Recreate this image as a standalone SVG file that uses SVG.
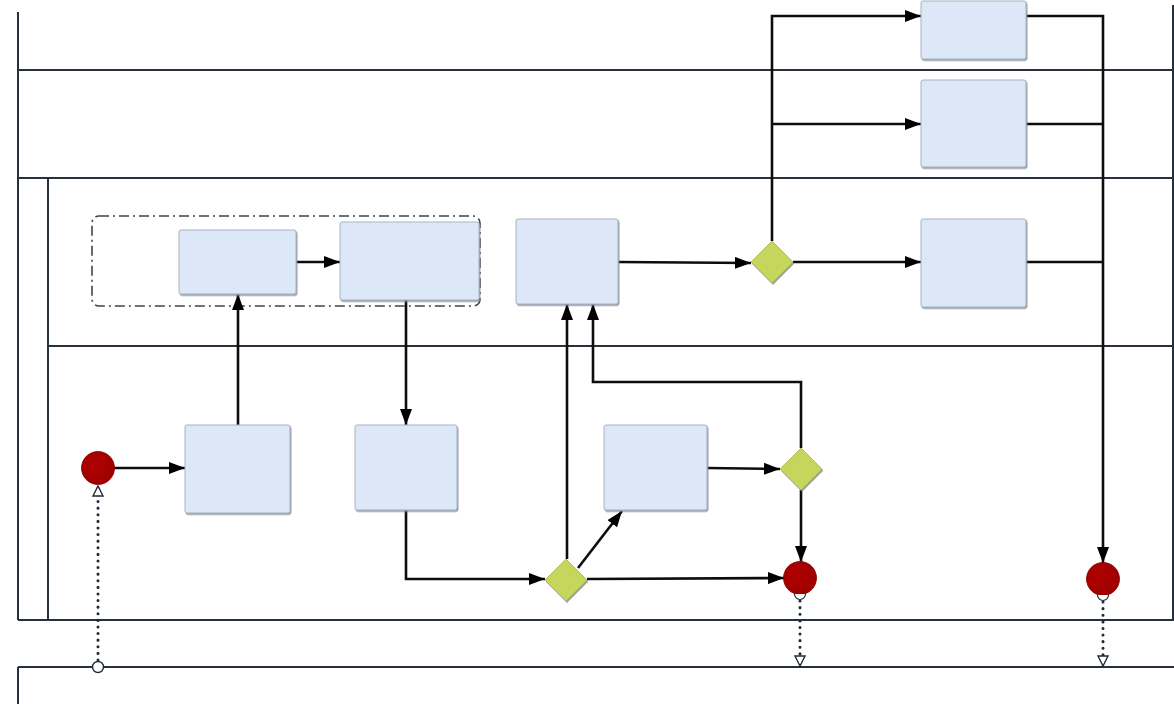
<svg xmlns="http://www.w3.org/2000/svg" width="1174" height="704" viewBox="0 0 1174 704">
<style>
.lane{stroke:#26313b;stroke-width:2;fill:none}
.task{fill:#dce8f8;stroke:#a9b3c0;stroke-width:1}
.gw{fill:#c6d65c;stroke:#a9b84a;stroke-width:0.8}
.ev{fill:url(#evg);stroke:#8a0000;stroke-width:0.8}
.flow{stroke:#0d0d0d;stroke-width:2.6;fill:none}
.msg{stroke:#1e2a36;stroke-width:3;fill:none;stroke-dasharray:0.1 6.5;stroke-linecap:round}
</style>
<defs>
<marker id="arr" viewBox="0 0 16 12" refX="16" refY="6" markerWidth="16" markerHeight="12" markerUnits="userSpaceOnUse" orient="auto">
<path d="M0,0 L16,6 L0,12 z" fill="#000"/>
</marker>
<marker id="oarr" viewBox="0 0 12 12" refX="11" refY="6" markerWidth="12" markerHeight="12" markerUnits="userSpaceOnUse" orient="auto">
<path d="M1,1 L11,6 L1,11 z" fill="#fff" stroke="#1e2a36" stroke-width="1.4"/>
</marker>
<radialGradient id="evg" cx="0.4" cy="0.4" r="0.7">
<stop offset="0" stop-color="#b00000"/>
<stop offset="0.8" stop-color="#a00000"/>
<stop offset="1" stop-color="#8c0000"/>
</radialGradient>
<filter id="sh" x="-10%" y="-10%" width="130%" height="130%">
<feDropShadow dx="1" dy="1.5" stdDeviation="0.6" flood-color="#7d8794" flood-opacity="0.8"/>
</filter>
</defs>

<g id="pools">
<line class="lane" x1="18" y1="12" x2="18" y2="620"/>
<line class="lane" x1="18" y1="70" x2="1174" y2="70"/>
<line class="lane" x1="18" y1="178" x2="1174" y2="178"/>
<line class="lane" x1="48" y1="178" x2="48" y2="620"/>
<line class="lane" x1="48" y1="346" x2="1174" y2="346"/>
<line class="lane" x1="18" y1="620" x2="1174" y2="620"/>
<line class="lane" x1="1173" y1="5" x2="1173" y2="620"/>
<line class="lane" x1="18" y1="667" x2="1174" y2="667"/>
<line class="lane" x1="18" y1="667" x2="18" y2="704"/>
</g>

<g id="group1">
<rect x="92" y="216" width="388" height="90" rx="7" fill="none" stroke="#3a4550" stroke-width="1.6" stroke-dasharray="10 4 2 4"/>
</g>

<g id="connectors">
<line class="flow" x1="114" y1="468" x2="185" y2="468" marker-end="url(#arr)"/>
<line class="flow" x1="238" y1="425" x2="238" y2="294" marker-end="url(#arr)"/>
<line class="flow" x1="296" y1="262" x2="340" y2="262" marker-end="url(#arr)"/>
<line class="flow" x1="406" y1="300" x2="406" y2="425" marker-end="url(#arr)"/>
<polyline class="flow" points="406,510 406,579 545,579" marker-end="url(#arr)"/>
<line class="flow" x1="567" y1="559" x2="567" y2="304" marker-end="url(#arr)"/>
<line class="flow" x1="578" y1="568" x2="622" y2="511" marker-end="url(#arr)"/>
<line class="flow" x1="587" y1="579" x2="784" y2="578" marker-end="url(#arr)"/>
<line class="flow" x1="707" y1="468" x2="780" y2="469" marker-end="url(#arr)"/>
<line class="flow" x1="801" y1="490" x2="801" y2="562" marker-end="url(#arr)"/>
<polyline class="flow" points="801,448 801,382 593,382 593,304" marker-end="url(#arr)"/>
<line class="flow" x1="618" y1="262" x2="751" y2="263" marker-end="url(#arr)"/>
<line class="flow" x1="793" y1="262" x2="921" y2="262" marker-end="url(#arr)"/>
<polyline class="flow" points="772,241 772,16 921,16" marker-end="url(#arr)"/>
<line class="flow" x1="772" y1="124" x2="921" y2="124" marker-end="url(#arr)"/>
<polyline class="flow" points="1026,16 1103,16 1103,563" marker-end="url(#arr)"/>
<line class="flow" x1="1026" y1="124" x2="1103" y2="124"/>
<line class="flow" x1="1026" y1="262" x2="1103" y2="262"/>
<line class="msg" x1="98" y1="660" x2="98" y2="486" marker-end="url(#oarr)"/>
<line class="msg" x1="800" y1="601" x2="800" y2="666" marker-end="url(#oarr)"/>
<line class="msg" x1="1103" y1="602" x2="1103" y2="666" marker-end="url(#oarr)"/>
</g>

<g id="taskA"><rect class="task" x="921" y="1" width="105" height="58" rx="2" filter="url(#sh)"/></g>
<g id="taskB"><rect class="task" x="921" y="80" width="105" height="87" rx="2" filter="url(#sh)"/></g>
<g id="taskC"><rect class="task" x="921" y="219" width="105" height="88" rx="2" filter="url(#sh)"/></g>
<g id="taskD"><rect class="task" x="179" y="230" width="117" height="64" rx="2" filter="url(#sh)"/></g>
<g id="taskE"><rect class="task" x="340" y="222" width="139" height="78" rx="2" filter="url(#sh)"/></g>
<g id="taskF"><rect class="task" x="516" y="219" width="102" height="85" rx="2" filter="url(#sh)"/></g>
<g id="taskH"><rect class="task" x="185" y="425" width="105" height="88" rx="2" filter="url(#sh)"/></g>
<g id="taskI"><rect class="task" x="355" y="425" width="102" height="85" rx="2" filter="url(#sh)"/></g>
<g id="taskJ"><rect class="task" x="604" y="425" width="103" height="85" rx="2" filter="url(#sh)"/></g>

<g id="gateway1"><polygon class="gw" points="772,241 793,262 772,283 751,262" filter="url(#sh)"/></g>
<g id="gateway2"><polygon class="gw" points="801,448 822,469 801,490 780,469" filter="url(#sh)"/></g>
<g id="gateway3"><polygon class="gw" points="566,559 587,580 566,601 545,580" filter="url(#sh)"/></g>

<g id="start"><circle class="ev" cx="98" cy="468" r="16.5"/></g>
<g id="end1"><circle class="ev" cx="800" cy="578" r="16.5"/><path d="M794.5,594 A5.5,5.5 0 0 0 805.5,594" fill="#fff" stroke="#1e2a36" stroke-width="1.2"/></g>
<g id="end2"><circle class="ev" cx="1103" cy="579" r="16.5"/><path d="M1097.5,595 A5.5,5.5 0 0 0 1108.5,595" fill="#fff" stroke="#1e2a36" stroke-width="1.2"/></g>
<g id="msgsrc"><circle cx="98" cy="667" r="5.5" fill="#fff" stroke="#1e2a36" stroke-width="1.4"/></g>
</svg>
